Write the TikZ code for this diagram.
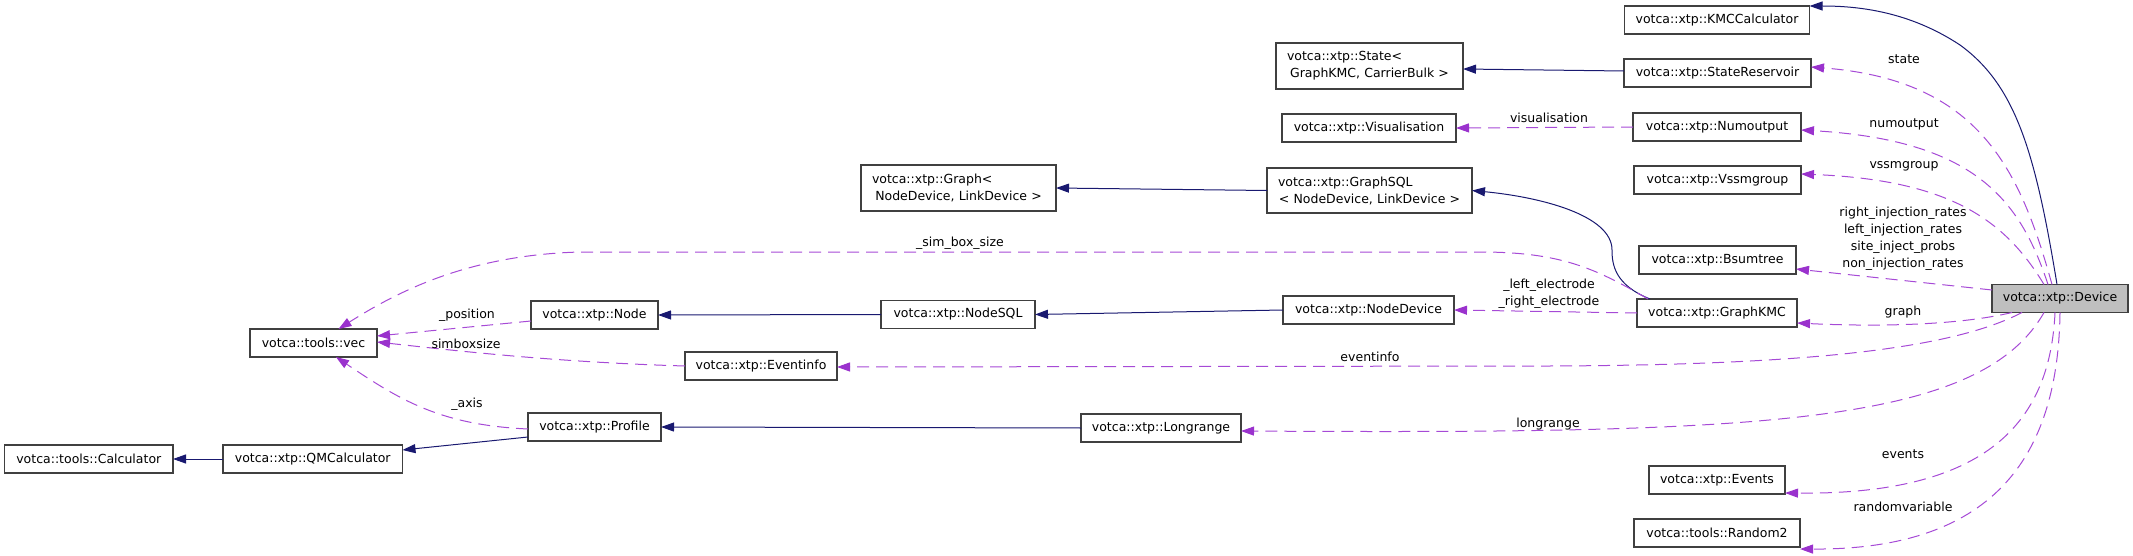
\documentclass[tikz,border=0pt]{standalone}
\usepackage{fontspec}
\setmainfont{DejaVu Sans}
\usetikzlibrary{arrows.meta,calc}
\definecolor{inh}{HTML}{191970}
\definecolor{use}{HTML}{9A32CD}
\definecolor{useline}{HTML}{A64AD6}
\definecolor{bord}{HTML}{404040}
\definecolor{devfill}{HTML}{BFBFBF}
\begin{document}
\begin{tikzpicture}[x=1pt,y=-1pt,
  every node/.style={font=\fontsize{12.5pt}{17pt}\selectfont},
  box/.style={draw=bord, line width=1.1pt, fill=white, inner sep=0pt, outer sep=0pt, minimum height=28pt},
  inhedge/.style={draw=inh, line width=1pt, -{Triangle[length=13pt,width=9pt,color=inh]}},
  useedge/.style={draw=useline, line width=1pt, dash pattern=on 12pt off 7pt, -{Triangle[length=13pt,width=9pt,color=use]}},
  lbl/.style={inner sep=0pt, anchor=base},
  mlbl/.style={inner sep=0pt, align=center}]
\useasboundingbox (0,0) rectangle (2133,556);

% nodes
\node[box, minimum width=185pt] (kmc) at (1717,20) {votca::xtp::KMCCalculator};
\node[box, minimum width=187pt] (sr) at (1717.5,73) {votca::xtp::StateReservoir};
\node[box, minimum width=168pt] (num) at (1717,127) {votca::xtp::Numoutput};
\node[box, minimum width=167pt] (vssm) at (1717.5,180) {votca::xtp::Vssmgroup};
\node[box, minimum width=157pt] (bsum) at (1717.5,260) {votca::xtp::Bsumtree};
\node[box, minimum width=160pt] (gkmc) at (1717,313) {votca::xtp::GraphKMC};
\node[box, minimum width=136pt, fill=devfill] (dev) at (2060,298.5) {votca::xtp::Device};
\node[box, minimum width=136pt] (events) at (1717,480) {votca::xtp::Events};
\node[box, minimum width=166pt] (rand) at (1717,533) {votca::tools::Random2};
\node[box, minimum width=187pt, minimum height=46pt, text width=165pt, align=center] (state) at (1369.5,66) {\makebox[\linewidth][l]{votca::xtp::State<}\\ GraphKMC, CarrierBulk >};
\node[box, minimum width=174pt] (vis) at (1369,128) {votca::xtp::Visualisation};
\node[box, minimum width=205pt, minimum height=45pt, text width=183pt, align=center] (gsql) at (1369.5,190.5) {\makebox[\linewidth][l]{votca::xtp::GraphSQL}\\< NodeDevice, LinkDevice >};
\node[box, minimum width=195pt, minimum height=46pt, text width=173pt, align=center] (graph) at (958.5,188) {\makebox[\linewidth][l]{votca::xtp::Graph<}\\ NodeDevice, LinkDevice >};
\node[box, minimum width=154pt] (nsql) at (958,314.5) {votca::xtp::NodeSQL};
\node[box, minimum width=171pt] (ndev) at (1368.5,310) {votca::xtp::NodeDevice};
\node[box, minimum width=127pt] (node) at (594.5,315) {votca::xtp::Node};
\node[box, minimum width=152pt] (einfo) at (761,366) {votca::xtp::Eventinfo};
\node[box, minimum width=127pt] (vec) at (313.5,343) {votca::tools::vec};
\node[box, minimum width=133pt] (profile) at (594.5,427) {votca::xtp::Profile};
\node[box, minimum width=160pt] (lr) at (1161,428) {votca::xtp::Longrange};
\node[box, minimum width=179.5pt] (qmc) at (312.75,459) {votca::xtp::QMCalculator};
\node[box, minimum width=168.4pt] (calc) at (88.8,459) {votca::tools::Calculator};

% inheritance
\draw[inhedge] ([xshift=-3pt]dev.north) .. controls (2035,150) and (2015,85) .. (1960,45) .. controls (1910,12) and (1860,6) .. (kmc.north east);
\draw[inhedge] ([yshift=2pt]sr.west) -- ([yshift=-3pt]state.east);
\draw[inhedge] ([xshift=-67pt]gkmc.north) .. controls (1615,285) and (1612,265) .. (1612,250) .. controls (1612,215) and (1540,197) .. (gsql.east);
\draw[inhedge] (gsql.west) -- (graph.east);
\draw[inhedge] (ndev.west) -- (nsql.east);
\draw[inhedge] (nsql.west) -- (node.east);
\draw[inhedge] (lr.west) -- (profile.east);
\draw[inhedge] ([yshift=-10pt]profile.west) -- ([yshift=9pt]qmc.east);
\draw[inhedge] (qmc.west) -- (calc.east);

% usage
\draw[useedge] ([xshift=-8pt]dev.north) .. controls (2020,170) and (1980,80) .. ([yshift=6pt]sr.east);
\draw[useedge] ([xshift=-12pt]dev.north) .. controls (2020,200) and (1975,140) .. ([yshift=-3pt]num.east);
\draw[useedge] ([xshift=-16pt]dev.north) .. controls (2005,220) and (1950,180) .. ([yshift=6pt]vssm.east);
\draw[useedge] ([yshift=8.5pt]dev.west) -- ([yshift=-9pt]bsum.east);
\draw[useedge] ([xshift=20pt]dev.south west) .. controls (1960,325) and (1880,327) .. ([yshift=-10pt]gkmc.east);
\draw[useedge] ([xshift=30pt]dev.south west) .. controls (1950,350) and (1800,365) .. (1550,366) -- ([yshift=-1pt]einfo.east);
\draw[useedge] ([xshift=52pt]dev.south west) .. controls (1980,425) and (1760,434) .. ([yshift=-3pt]lr.east);
\draw[useedge] ([xshift=-5pt]dev.south) .. controls (2050,420) and (1990,495) .. ([yshift=1pt]events.south east);
\draw[useedge] ([xshift=0pt]dev.south) .. controls (2058,450) and (2000,550) .. ([yshift=-2pt]rand.south east);
\draw[useedge] ([xshift=11pt]gkmc.north west) .. controls (1595,268) and (1560,252) .. (1480,252) -- (580,252) .. controls (470,255) and (400,290) .. ([xshift=25pt]vec.north);
\draw[useedge] (gkmc.west) -- (ndev.east);
\draw[useedge] (num.west) -- (vis.east);
\draw[useedge] ([yshift=-6pt]node.west) -- ([yshift=7pt]vec.east);
\draw[useedge] (einfo.west) .. controls (550,362) and (450,350) .. ([yshift=1pt]vec.east);
\draw[useedge] ([yshift=-2pt]profile.west) .. controls (440,425) and (400,400) .. ([xshift=22.5pt]vec.south);

% labels
\node[lbl] (lstate) at (1904,63.5) {state};
\node[lbl] (lnum) at (1904,127.5) {numoutput};
\node[lbl] (lvssm) at (1904,168.5) {vssmgroup};
\node[mlbl] (linj) at (1903,239) {right\_injection\_rates\\left\_injection\_rates\\site\_inject\_probs\\non\_injection\_rates};
\node[lbl] (lgraph) at (1903,315.5) {graph};
\node[lbl] (lvis) at (1549,122.5) {visualisation};
\node[lbl] (lsim) at (960,246.5) {\_sim\_box\_size};
\node[mlbl] (lelec) at (1549,294) {\_left\_electrode\\\_right\_electrode};
\node[lbl] (leinfo) at (1370,361.5) {eventinfo};
\node[lbl] (lpos) at (467,318.5) {\_position};
\node[lbl] (lsbs) at (466,348.5) {simboxsize};
\node[lbl] (laxis) at (467,407.5) {\_axis};
\node[lbl] (llr) at (1548,427.5) {longrange};
\node[lbl] (levents) at (1903,458.5) {events};
\node[lbl] (lrand) at (1903,511.5) {randomvariable};
\end{tikzpicture}
\end{document}
